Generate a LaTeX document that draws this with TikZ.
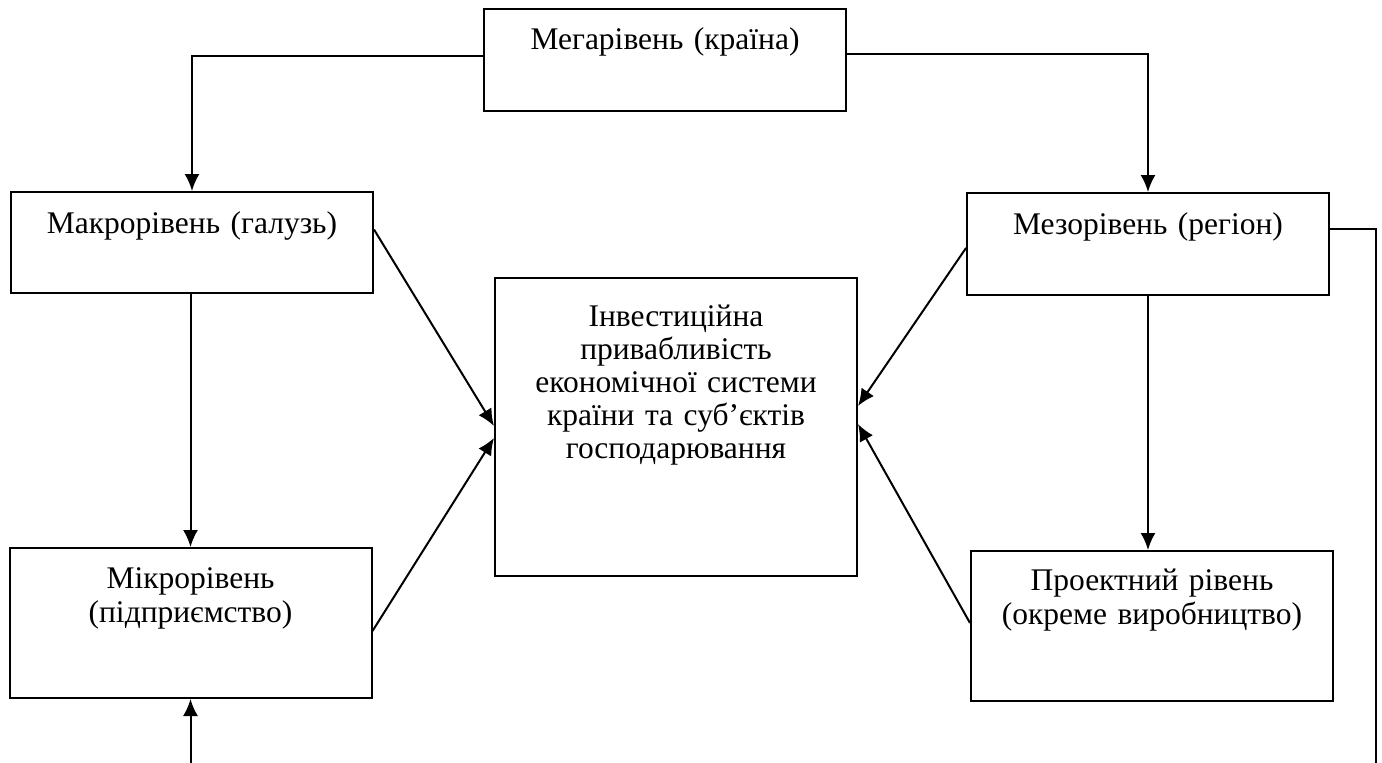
\documentclass[tikz,border=0pt]{standalone}
\usepackage{fontspec}
\setmainfont{Liberation Serif}
\usetikzlibrary{arrows.meta,positioning}

\begin{document}
\begin{tikzpicture}[x=1pt,y=-1pt,line width=2pt,>={Latex[length=17pt,width=15pt]},
    lvlbox/.style={draw, anchor=north, inner sep=0pt, text width=362pt, align=center,
        font=\fontsize{31.5}{34}\selectfont, text height=40pt}]
  \useasboundingbox (0,0) rectangle (1382,763);
  \node[lvlbox, text depth=62pt] (mega) at (665,8) {Мегарівень (країна)};
  \node[lvlbox, text height=41pt, text depth=60pt] (macro) at (192,191) {Макрорівень (галузь)};
  \node[lvlbox, text height=41pt, text depth=61pt] (meso) at (1148,192) {Мезорівень (регіон)};
  \node[lvlbox, text height=48pt, text depth=250pt, font=\fontsize{31.5}{33}\selectfont] (centre) at (676,277)
    {Інвестиційна\\ привабливість\\ економічної системи\\ країни та суб’єктів\\ господарювання};
  \node[lvlbox, text depth=110pt] (micro) at (190.5,547) {Мікрорівень\\ (підприємство)};
  \node[lvlbox, text height=39pt, text depth=111pt] (proj) at (1152,550) {Проектний рівень\\ (окреме виробництво)};
  \coordinate (foot) at (190.5,763);
  \coordinate (rim) at (1376,763);

  \draw[->] ([yshift=4pt]mega.west) -| (macro.north);
  \draw[->] ([yshift=6pt]mega.east) -| (meso.north);
  \draw[->] (macro.south -| micro.north) -- (micro.north);
  \draw[->] (foot) -- (micro.south);
  \draw[->] (meso.south) -- (meso.south |- proj.north);
  \draw[line width=1.5pt] ([yshift=15pt]meso.east) -| (rim);
  \draw[->] ([yshift=13pt]macro.east) -- ([yshift=1pt]centre.west);
  \draw[->] ([yshift=-8pt]micro.east) -- ([yshift=-11pt]centre.west);
  \draw[->] ([yshift=-4pt]meso.west) -- ([yshift=21pt]centre.east);
  \draw[->] ([yshift=3pt]proj.west) -- ([yshift=3pt]centre.east);
\end{tikzpicture}
\end{document}
